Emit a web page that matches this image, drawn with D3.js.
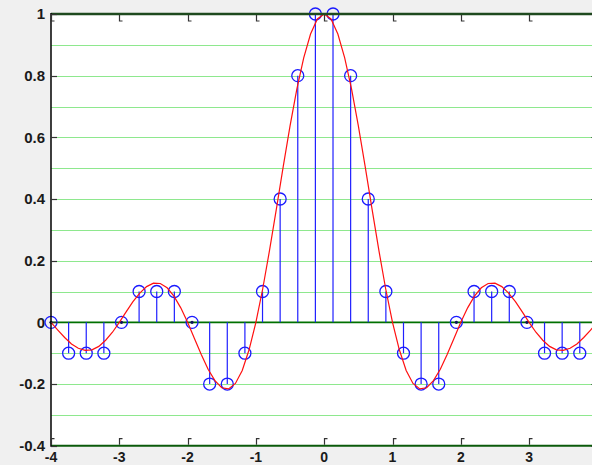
<!DOCTYPE html>
<html>
<head>
<meta charset="utf-8">
<script src="https://cdn.jsdelivr.net/npm/d3@7"></script>
<style>
  html, body { margin: 0; padding: 0; background: #f0f0f0; overflow: hidden; }
  svg { display: block; }
</style>
</head>
<body>
<svg id="chart" width="592" height="465"></svg>
<script>
// ---- data ----
const stemX = [-4, -3.742, -3.484, -3.226, -2.968, -2.710, -2.452, -2.194, -1.935, -1.677,
  -1.419, -1.161, -0.903, -0.645, -0.387, -0.129, 0.129, 0.387, 0.645, 0.903,
  1.161, 1.419, 1.677, 1.935, 2.194, 2.452, 2.710, 2.968, 3.226, 3.484, 3.742];
const stemY = [0, -0.1, -0.1, -0.1, 0, 0.1, 0.1, 0.1, 0, -0.2,
  -0.2, -0.1, 0.1, 0.4, 0.8, 1, 1, 0.8, 0.4, 0.1,
  -0.1, -0.2, -0.2, 0, 0.1, 0.1, 0.1, 0, -0.1, -0.1, -0.1];

const curveX = [-4.0, -3.9, -3.8, -3.7, -3.6, -3.5, -3.4, -3.3, -3.2, -3.1,
  -3.0, -2.9, -2.8, -2.7, -2.6, -2.5, -2.4, -2.3, -2.2, -2.1,
  -2.0, -1.9, -1.8, -1.7, -1.6, -1.5, -1.4, -1.3, -1.2, -1.1,
  -1.0, -0.9, -0.8, -0.7, -0.6, -0.5, -0.4, -0.3, -0.2, -0.1,
  0.0, 0.1, 0.2, 0.3, 0.4, 0.5, 0.6, 0.7, 0.8, 0.9,
  1.0, 1.1, 1.2, 1.3, 1.4, 1.5, 1.6, 1.7, 1.8, 1.9,
  2.0, 2.1, 2.2, 2.3, 2.4, 2.5, 2.6, 2.7, 2.8, 2.9,
  3.0, 3.1, 3.2, 3.3, 3.4, 3.5, 3.6, 3.7, 3.8, 3.9, 4.0];
const curveY = [0, -0.025, -0.049, -0.070, -0.084, -0.091, -0.089, -0.078, -0.058, -0.032,
  0, 0.034, 0.067, 0.095, 0.116, 0.127, 0.126, 0.112, 0.085, 0.047,
  0, -0.052, -0.104, -0.152, -0.189, -0.212, -0.216, -0.198, -0.156, -0.089,
  0, 0.109, 0.234, 0.368, 0.505, 0.637, 0.757, 0.858, 0.935, 0.984,
  1, 0.984, 0.935, 0.858, 0.757, 0.637, 0.505, 0.368, 0.234, 0.109,
  0, -0.089, -0.156, -0.198, -0.216, -0.212, -0.189, -0.152, -0.104, -0.052,
  0, 0.047, 0.085, 0.112, 0.126, 0.127, 0.116, 0.095, 0.067, 0.034,
  0, -0.032, -0.058, -0.078, -0.089, -0.091, -0.084, -0.070, -0.049, -0.025, 0];

const xTicks = [-4, -3, -2, -1, 0, 1, 2, 3];
const xTickLabels = ["-4", "-3", "-2", "-1", "0", "1", "2", "3"];
const yTicks = [-0.4, -0.2, 0, 0.2, 0.4, 0.6, 0.8, 1];
const yTickLabels = ["-0.4", "-0.2", "0", "0.2", "0.4", "0.6", "0.8", "1"];
const gridY = [-0.3, -0.2, -0.1, 0.1, 0.2, 0.3, 0.4, 0.5, 0.6, 0.7, 0.8, 0.9];

// ---- layout ----
const pLeft = 51, pRight = 597.4, pTop = 14, pBottom = 445.7;
const x = d3.scaleLinear().domain([-4, 4]).range([pLeft, pRight]);
const y = d3.scaleLinear().domain([-0.4, 1]).range([pBottom, pTop]);

const svg = d3.select("#chart");

svg.append("rect").attr("x", 0).attr("y", 0).attr("width", 592).attr("height", 465).attr("fill", "#f0f0f0");
svg.append("rect").attr("x", pLeft).attr("y", pTop).attr("width", pRight - pLeft).attr("height", pBottom - pTop).attr("fill", "#ffffff");

// grid lines
svg.append("g").selectAll("line").data(gridY).join("line")
  .attr("x1", pLeft).attr("x2", pRight)
  .attr("y1", d => Math.round(y(d)) + 0.5).attr("y2", d => Math.round(y(d)) + 0.5)
  .attr("stroke", "#8ee88e").attr("stroke-width", 1.2);

// zero line
svg.append("line")
  .attr("x1", pLeft).attr("x2", pRight)
  .attr("y1", y(0)).attr("y2", y(0))
  .attr("stroke", "#007000").attr("stroke-width", 1.6);

// stems
svg.append("g").selectAll("line").data(stemX).join("line")
  .attr("x1", d => x(d)).attr("x2", d => x(d))
  .attr("y1", y(0)).attr("y2", (d, i) => y(stemY[i]))
  .attr("stroke", "#2020ff").attr("stroke-width", 1.2);

// markers
svg.append("g").selectAll("circle").data(stemX).join("circle")
  .attr("cx", d => x(d)).attr("cy", (d, i) => y(stemY[i]))
  .attr("r", 6).attr("fill", "none").attr("stroke", "#1a1aff").attr("stroke-width", 1.3);
svg.append("g").selectAll("circle").data(stemX.filter((d, i) => stemY[i] === 0)).join("circle")
  .attr("cx", d => x(d)).attr("cy", y(0))
  .attr("r", 1.6).attr("fill", "#101060");

// red curve
const line = d3.line().x(d => x(d[0])).y(d => y(d[1]));
svg.append("path")
  .datum(curveX.map((d, i) => [d, curveY[i]]))
  .attr("d", line)
  .attr("fill", "none").attr("stroke", "#ff1010").attr("stroke-width", 1.2);

// axes frame
svg.append("line").attr("x1", pLeft).attr("x2", pRight).attr("y1", pTop).attr("y2", pTop)
  .attr("stroke", "#1e4a1e").attr("stroke-width", 2.6);
svg.append("line").attr("x1", pLeft).attr("x2", pRight).attr("y1", pBottom).attr("y2", pBottom)
  .attr("stroke", "#0a5a0a").attr("stroke-width", 2);
svg.append("line").attr("x1", pLeft).attr("x2", pLeft).attr("y1", pTop - 1).attr("y2", pBottom + 1)
  .attr("stroke", "#000").attr("stroke-width", 1.5);

// x ticks (top and bottom, inward with small hook)
const tickG = svg.append("g").attr("stroke", "#333").attr("stroke-width", 1.2).attr("fill", "none");
xTicks.forEach(t => {
  const px = Math.round(x(t)) + 0.5;
  tickG.append("path").attr("d", `M${px},${pTop + 1}V${pTop + 7}H${px + 3}`);
  tickG.append("path").attr("d", `M${px},${pBottom - 1}V${pBottom - 7}H${px + 3}`);
});
// y ticks (left and right)
yTicks.forEach(t => {
  const py = Math.round(y(t)) + 0.5;
  tickG.append("line").attr("x1", pLeft).attr("x2", pLeft + 6).attr("y1", py).attr("y2", py);
  tickG.append("line").attr("x1", pRight).attr("x2", pRight - 6).attr("y1", py).attr("y2", py);
});

// labels
const font = "'Liberation Sans', Arial, sans-serif";
svg.append("g").selectAll("text").data(yTicks).join("text")
  .attr("x", 45).attr("y", d => y(d))
  .attr("dy", "0.36em")
  .attr("text-anchor", "end")
  .attr("font-family", font).attr("font-size", 15).attr("font-weight", "bold")
  .attr("fill", "#1a1a1a")
  .text((d, i) => yTickLabels[i]);

svg.append("g").selectAll("text").data(xTicks).join("text")
  .attr("x", d => x(d)).attr("y", 462)
  .attr("text-anchor", "middle")
  .attr("font-family", font).attr("font-size", 14).attr("font-weight", "bold")
  .attr("fill", "#1a1a1a")
  .text((d, i) => xTickLabels[i]);
</script>
</body>
</html>
